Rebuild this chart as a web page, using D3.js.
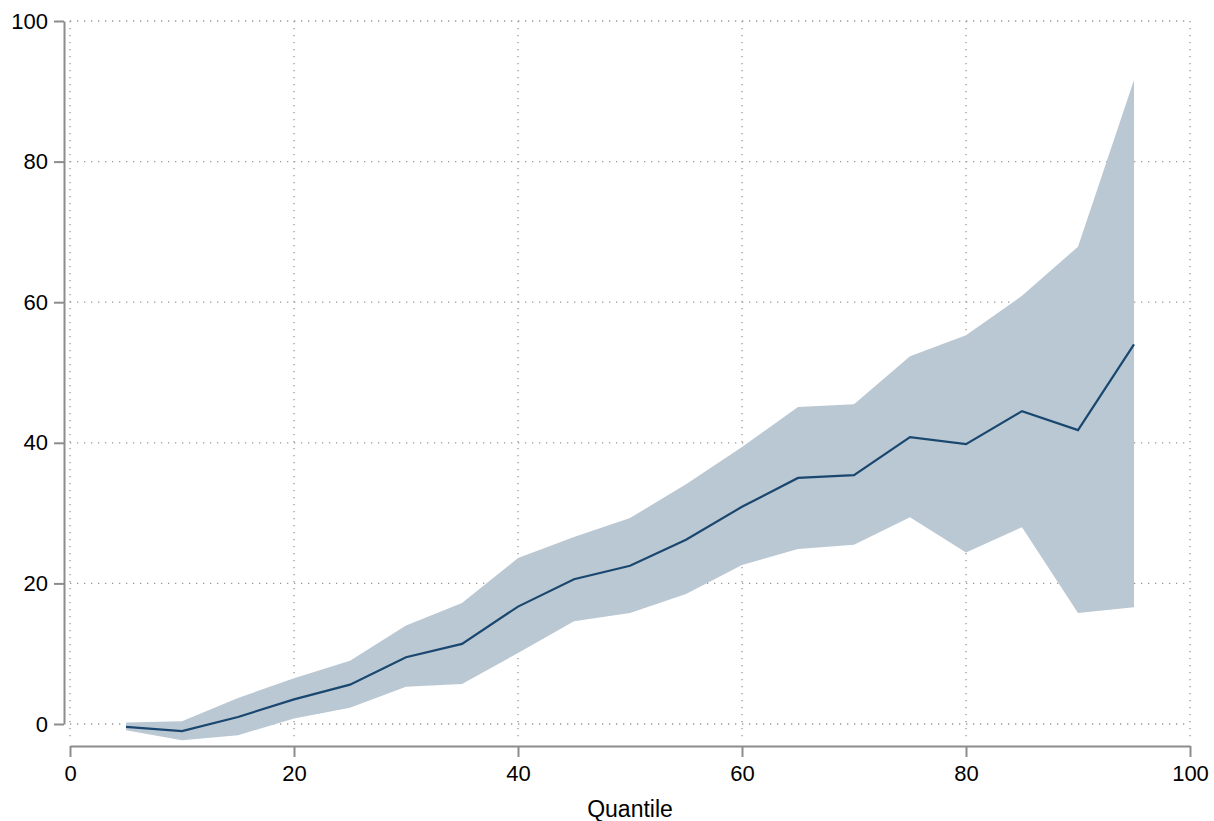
<!DOCTYPE html>
<html>
<head>
<meta charset="utf-8">
<script src="https://cdn.jsdelivr.net/npm/d3@7"></script>
<style>
  body { margin: 0; background: #fff; }
  svg text { font-family: "Liberation Sans", Arial, sans-serif; }
</style>
</head>
<body>
<svg id="chart"></svg>
<script>
// quantiles and estimates
const quantiles = [5, 10, 15, 20, 25, 30, 35, 40, 45, 50, 55, 60, 65, 70, 75, 80, 85, 90, 95]
const estimate = [-0.4, -1.0, 1.0, 3.5, 5.6, 9.5, 11.4, 16.7, 20.6, 22.5, 26.2, 30.9, 35.0, 35.4, 40.8, 39.8, 44.5, 41.8, 54.0]
const upper = [0.2, 0.4, 3.7, 6.5, 9.0, 14.0, 17.2, 23.6, 26.6, 29.3, 34.1, 39.4, 45.1, 45.5, 52.3, 55.3, 60.9, 67.9, 91.6]
const lower = [-0.9, -2.3, -1.6, 0.8, 2.3, 5.3, 5.7, 10.1, 14.6, 15.8, 18.5, 22.6, 24.9, 25.5, 29.4, 24.4, 28.0, 15.8, 16.6]
const xTicks = [0, 20, 40, 60, 80, 100]
const yTicks = [0, 20, 40, 60, 80, 100]

const width = 1214, height = 821
const svg = d3.select('#chart').attr('width', width).attr('height', height)

const x = d3.scaleLinear().domain([0, 100]).range([70, 1190])
const y = d3.scaleLinear().domain([0, 100]).range([724, 21])

const data = quantiles.map((q, i) => ({q: q, est: estimate[i], lo: lower[i], hi: upper[i]}))

// grid
const grid = svg.append('g')
grid.selectAll('.hgrid').data(yTicks).enter()
  .append('line')
  .attr('x1', x(0)).attr('x2', x(100))
  .attr('y1', d => y(d)).attr('y2', d => y(d))
  .attr('stroke', '#999').attr('stroke-width', 1.3)
  .attr('stroke-dasharray', '1.3,5.7')
grid.selectAll('.vgrid').data(xTicks).enter()
  .append('line')
  .attr('x1', d => x(d)).attr('x2', d => x(d))
  .attr('y1', y(100)).attr('y2', 740)
  .attr('stroke', '#999').attr('stroke-width', 1.3)
  .attr('stroke-dasharray', '1.3,5.7')

// confidence band
const area = d3.area()
  .x(d => x(d.q))
  .y0(d => y(d.lo))
  .y1(d => y(d.hi))
svg.append('path')
  .attr('d', area(data))
  .attr('fill', '#bac8d3')

// estimate line
const line = d3.line()
  .x(d => x(d.q))
  .y(d => y(d.est))
svg.append('path')
  .attr('d', line(data))
  .attr('fill', 'none')
  .attr('stroke', '#1a476f')
  .attr('stroke-width', 2.2)

// axes
const yaxis = d3.axisLeft(y).tickValues(yTicks).tickSize(10).tickSizeOuter(0).tickPadding(6)
const xaxis = d3.axisBottom(x).tickValues(xTicks).tickSize(11).tickSizeOuter(0).tickPadding(8)

const yg = svg.append('g').attr('transform', 'translate(64,0)').call(yaxis)
const xg = svg.append('g').attr('transform', 'translate(0,746)').call(xaxis)

;[yg, xg].forEach(g => {
  g.select('.domain').attr('stroke', '#8c8c8c').attr('stroke-width', 2)
  g.selectAll('.tick line').attr('stroke', '#8c8c8c').attr('stroke-width', 2)
  g.selectAll('.tick text').attr('font-size', 22).attr('fill', '#000')
    .style('font-family', '"Liberation Sans", Arial, sans-serif')
})

svg.append('text')
  .attr('x', x(50))
  .attr('y', 817)
  .attr('text-anchor', 'middle')
  .attr('font-size', 23)
  .text('Quantile')
</script>
</body>
</html>
